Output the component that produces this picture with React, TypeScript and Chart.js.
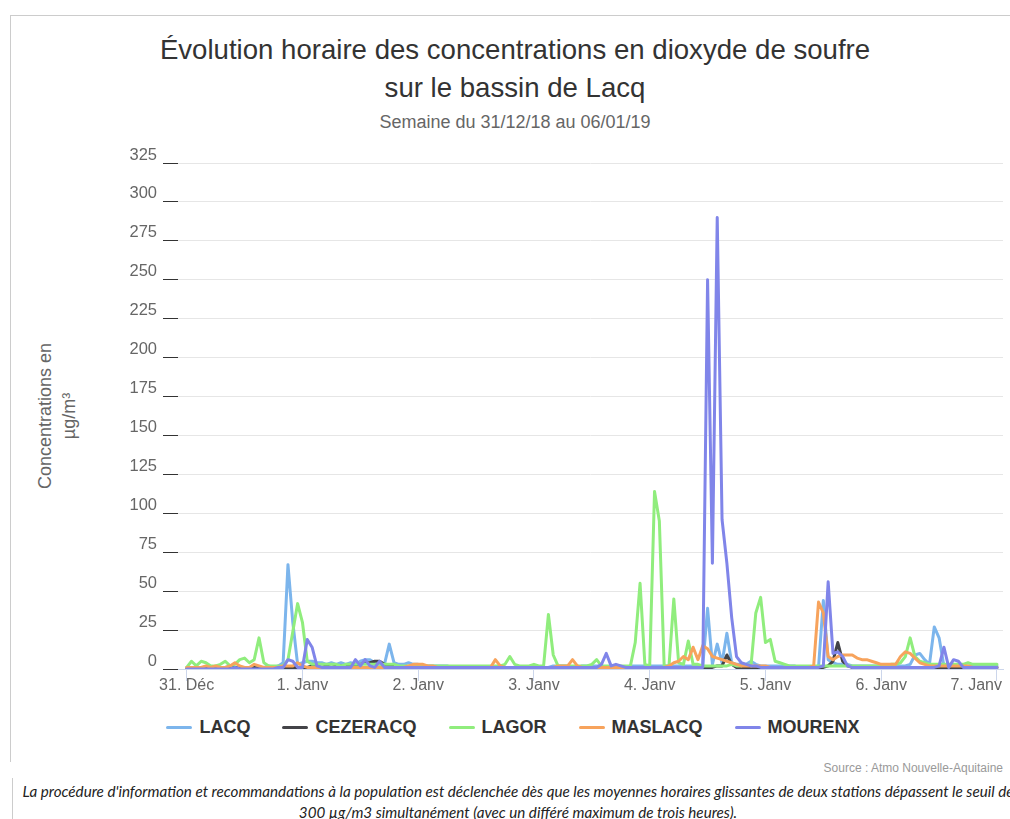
import React, { useEffect, useRef } from "react";
import { Chart, registerables } from "chart.js";

Chart.register(...registerables);

// ---- Data (hourly values, 31/12/2018 00h -> 07/01/2019 00h) ----
const DAY_TICKS = [0, 24, 48, 72, 96, 120, 144, 168];
const DAY_LABELS = ["31. Déc", "1. Janv", "2. Janv", "3. Janv", "4. Janv", "5. Janv", "6. Janv", "7. Janv"];

const SERIES_NAMES = ["LACQ", "CEZERACQ", "LAGOR", "MASLACQ", "MOURENX"];
const SERIES_COLORS = ["#7cb5ec", "#434348", "#90ed7d", "#f7a35c", "#8085e9"];

const LACQ = [
  1, 1, 1, 1, 1, 1, 1, 1, 1, 2, 1, 1, 1, 1, 1, 1, 1, 2, 1, 2, 4, 67, 30, 3,
  4, 5, 5, 4, 4, 3, 4, 3, 4, 3, 4, 3, 5, 6, 6, 4, 3, 3, 16, 4, 3, 3, 4, 3,
  3, 2, 2, 2, 2, 2, 2, 1, 1, 1, 1, 1, 1, 1, 1, 1, 1, 1, 1, 1, 1, 1, 1, 1,
  1, 1, 1, 1, 2, 2, 2, 2, 1, 1, 2, 2, 2, 2, 2, 1, 1, 1, 1, 1, 2, 2, 2, 2,
  2, 2, 2, 2, 2, 2, 2, 2, 2, 2, 2, 2, 39, 3, 16, 4, 23, 4, 3, 3, 3, 5, 3, 2,
  2, 2, 2, 2, 2, 2, 2, 1, 1, 1, 1, 1, 44, 6, 4, 3, 3, 3, 2, 2, 2, 2, 2, 2,
  2, 2, 2, 2, 2, 2, 3, 9, 10, 6, 3, 27, 20, 2, 2, 2, 2, 2, 2, 2, 2, 2, 2, 2,
  2,
];

const CEZERACQ = [
  0, 0, 1, 0, 0, 1, 0, 0, 0, 1, 1, 0, 0, 0, 1, 0, 0, 0, 1, 1, 1, 1, 1, 1,
  1, 1, 2, 2, 1, 2, 1, 2, 2, 2, 2, 2, 3, 4, 4, 5, 5, 3, 2, 2, 1, 1, 1, 1,
  1, 1, 1, 1, 1, 1, 1, 1, 1, 1, 1, 1, 1, 1, 1, 1, 1, 1, 1, 1, 1, 1, 1, 1,
  1, 1, 1, 1, 1, 1, 1, 1, 1, 1, 1, 1, 1, 1, 1, 1, 1, 1, 1, 1, 1, 1, 1, 1,
  1, 1, 1, 1, 1, 1, 1, 1, 1, 1, 1, 1, 1, 1, 2, 2, 9, 3, 1, 1, 1, 1, 1, 1,
  1, 1, 1, 1, 1, 1, 1, 1, 1, 1, 1, 1, 1, 2, 5, 17, 5, 2, 1, 1, 1, 1, 1, 1,
  1, 1, 1, 1, 1, 1, 1, 1, 1, 1, 1, 1, 1, 1, 1, 1, 1, 1, 1, 1, 1, 1, 1, 1,
  1,
];

const LAGOR = [
  1, 5, 2, 5, 4, 2, 2, 3, 5, 2, 3, 6, 7, 4, 6, 20, 4, 2, 2, 2, 2, 6, 24, 42,
  30, 5, 3, 3, 3, 3, 3, 3, 2, 3, 3, 3, 3, 3, 3, 3, 3, 3, 3, 3, 2, 2, 2, 2,
  2, 2, 2, 2, 2, 2, 2, 2, 2, 2, 2, 2, 2, 2, 2, 2, 2, 2, 3, 8, 3, 2, 2, 2,
  3, 2, 2, 35, 9, 2, 2, 2, 2, 2, 2, 2, 3, 6, 2, 2, 2, 2, 2, 2, 2, 17, 55, 3,
  2, 114, 95, 2, 2, 45, 4, 3, 18, 3, 3, 2, 2, 2, 2, 2, 2, 3, 2, 2, 3, 2, 36, 46,
  17, 19, 5, 4, 3, 2, 2, 2, 2, 2, 2, 2, 2, 2, 2, 2, 2, 2, 2, 2, 2, 2, 2, 2,
  2, 2, 3, 3, 4, 8, 20, 8, 5, 4, 3, 3, 3, 3, 3, 3, 3, 3, 4, 3, 3, 3, 3, 3,
  3,
];

const MASLACQ = [
  1, 1, 1, 1, 2, 1, 2, 1, 1, 2, 4, 2, 1, 1, 3, 2, 1, 1, 1, 1, 2, 2, 2, 4,
  2, 1, 1, 1, 1, 1, 1, 1, 1, 1, 1, 1, 1, 1, 1, 1, 1, 1, 1, 1, 1, 1, 2, 3,
  3, 3, 2, 2, 1, 1, 1, 1, 1, 1, 1, 1, 1, 1, 1, 1, 6, 2, 1, 1, 1, 1, 1, 1,
  1, 1, 1, 1, 1, 2, 2, 2, 6, 2, 1, 1, 1, 1, 1, 1, 1, 1, 1, 1, 1, 1, 1, 1,
  1, 1, 1, 1, 2, 4, 5, 8, 6, 14, 6, 15, 13, 8, 7, 6, 5, 4, 3, 2, 2, 2, 2, 2,
  2, 1, 1, 1, 1, 1, 1, 1, 1, 1, 2, 43, 36, 8, 6, 8, 9, 9, 9, 7, 6, 6, 5, 4,
  3, 3, 3, 3, 8, 11, 10, 7, 4, 3, 2, 2, 2, 2, 2, 2, 2, 2, 2, 1, 1, 1, 1, 1,
  1,
];

const MOURENX = [
  0, 0, 0, 0, 0, 0, 0, 0, 0, 0, 1, 0, 0, 0, 0, 0, 0, 0, 0, 1, 1, 6, 5, 1,
  1, 19, 14, 2, 1, 1, 1, 1, 1, 1, 1, 6, 2, 6, 2, 1, 5, 1, 1, 1, 1, 1, 1, 1,
  1, 1, 1, 1, 1, 1, 1, 1, 1, 1, 1, 1, 1, 1, 1, 1, 1, 1, 1, 1, 1, 1, 1, 1,
  1, 1, 1, 1, 1, 1, 1, 1, 1, 1, 1, 1, 1, 1, 3, 10, 2, 3, 2, 1, 1, 1, 1, 1,
  1, 1, 1, 1, 1, 1, 1, 1, 1, 1, 1, 1, 250, 68, 290, 96, 68, 33, 8, 4, 3, 2, 2, 1,
  1, 1, 1, 1, 1, 1, 1, 1, 1, 1, 1, 1, 2, 56, 10, 11, 8, 2, 1, 1, 1, 1, 1, 1,
  1, 1, 1, 1, 1, 1, 1, 1, 1, 1, 1, 1, 2, 14, 1, 6, 5, 1, 1, 1, 1, 1, 1, 1,
  1,
];

const SERIES_VALUES = [LACQ, CEZERACQ, LAGOR, MASLACQ, MOURENX];

const Y_MIN = 0;
const Y_MAX = 325;
const Y_STEP = 25;

const FONT = '"Liberation Sans", Arial, Helvetica, sans-serif';

// canvas placement (page px)
const CV_LEFT = 100;
const CV_TOP = 130;
const CV_W = 910;
const CV_H = 570;

const xLabelPlugin = {
  id: "xDayLabels",
  afterDraw(chart: any) {
    const { ctx } = chart;
    const xs = chart.scales.x;
    ctx.save();
    ctx.font = "16px " + FONT;
    ctx.fillStyle = "#666666";
    ctx.textBaseline = "middle";
    ctx.textAlign = "left";
    const maxRight = chart.width - 8;
    DAY_TICKS.forEach((v, i) => {
      const label = DAY_LABELS[i];
      const w = ctx.measureText(label).width;
      let left = xs.getPixelForValue(v) - w / 2;
      if (left + w > maxRight) left = maxRight - w;
      ctx.fillText(label, left, chart.chartArea.bottom + 17);
    });
    ctx.restore();
  },
};

function SO2Chart() {
  const ref = useRef<HTMLCanvasElement | null>(null);
  useEffect(() => {
    if (!ref.current) return;
    const datasets = SERIES_NAMES.map((name, si) => ({
      label: name,
      data: SERIES_VALUES[si].map((v, i) => ({ x: i, y: v })),
      borderColor: SERIES_COLORS[si],
      backgroundColor: SERIES_COLORS[si],
      borderWidth: 3,
      pointRadius: 0,
      pointHoverRadius: 0,
      tension: 0,
      fill: false,
      borderJoinStyle: "round" as const,
      borderCapStyle: "round" as const,
      order: SERIES_NAMES.length - 1 - si,
    }));
    const chart = new Chart(ref.current, {
      type: "line",
      data: { datasets },
      plugins: [xLabelPlugin],
      options: {
        animation: false,
        responsive: false,
        maintainAspectRatio: false,
        devicePixelRatio: 1,
        layout: { padding: { top: 33, right: 7, bottom: 0, left: 0 } },
        plugins: {
          legend: { display: false },
          title: { display: false },
          tooltip: { enabled: false },
        },
        scales: {
          x: {
            type: "linear",
            min: -1.8,
            max: 169.25,
            afterBuildTicks: (s: any) => {
              s.ticks = DAY_TICKS.map((v) => ({ value: v }));
            },
            afterFit: (s: any) => {
              s.height = 31;
              s.paddingLeft = 0;
              s.paddingRight = 0;
            },
            ticks: { display: false },
            grid: {
              drawOnChartArea: false,
              drawTicks: true,
              tickLength: 12,
              tickColor: "#ccd6eb",
              tickWidth: 1,
            },
            border: { display: true, color: "#ccd6eb", width: 1 },
          },
          y: {
            type: "linear",
            min: Y_MIN,
            max: Y_MAX,
            afterFit: (s: any) => {
              s.width = 78;
            },
            ticks: {
              stepSize: Y_STEP,
              color: "#666666",
              font: { family: FONT, size: 16.5 },
              padding: 6,
              labelOffset: -8,
            },
            grid: {
              color: "#e6e6e6",
              lineWidth: 1,
              drawTicks: true,
              tickLength: 15,
              tickColor: "#333333",
              tickWidth: 1,
            },
            border: { display: false },
          },
        },
      },
    });
    return () => chart.destroy();
  }, []);
  return (
    <canvas
      ref={ref}
      width={CV_W}
      height={CV_H}
      style={{ position: "absolute", left: CV_LEFT, top: CV_TOP, width: CV_W, height: CV_H }}
    />
  );
}

export default function App() {
  return (
    <div
      style={{
        position: "absolute",
        left: 0,
        top: 0,
        width: 1010,
        height: 819,
        overflow: "hidden",
        background: "#ffffff",
        fontFamily: FONT,
      }}
    >
      {/* frame lines */}
      <div style={{ position: "absolute", left: 10, top: 15, width: 1000, height: 1, background: "#cccccc" }} />
      <div style={{ position: "absolute", left: 10, top: 15, width: 1, height: 747, background: "#cccccc" }} />
      <div style={{ position: "absolute", left: 12, top: 778, width: 1, height: 41, background: "#cccccc" }} />

      {/* title */}
      <div
        style={{
          position: "absolute",
          left: 10,
          top: 31,
          width: 1010,
          textAlign: "center",
          fontSize: 27.6,
          lineHeight: "38px",
          color: "#333333",
        }}
      >
        <div>Évolution horaire des concentrations en dioxyde de soufre</div>
        <div>sur le bassin de Lacq</div>
      </div>
      <div
        style={{
          position: "absolute",
          left: 10,
          top: 111,
          width: 1010,
          textAlign: "center",
          fontSize: 18,
          lineHeight: "22px",
          color: "#666666",
        }}
      >
        Semaine du 31/12/18 au 06/01/19
      </div>

      {/* y axis title */}
      <div
        style={{
          position: "absolute",
          left: 57 - 110,
          top: 416 - 24,
          width: 220,
          height: 48,
          lineHeight: "24px",
          textAlign: "center",
          fontSize: 18,
          color: "#666666",
          transform: "rotate(-90deg)",
          transformOrigin: "50% 50%",
          whiteSpace: "nowrap",
        }}
      >
        <div>Concentrations en</div>
        <div>µg/m³</div>
      </div>

      <SO2Chart />

      {/* legend */}
      <div
        style={{
          position: "absolute",
          left: 10,
          top: 715,
          width: 1006,
          display: "flex",
          justifyContent: "center",
          gap: 32,
          fontSize: 18,
          fontWeight: "bold",
          color: "#333333",
          lineHeight: "24px",
        }}
      >
        {SERIES_NAMES.map((n, i) => (
          <div key={n} style={{ display: "flex", alignItems: "center" }}>
            <span
              style={{
                display: "inline-block",
                width: 26,
                height: 3,
                borderRadius: 1.5,
                background: SERIES_COLORS[i],
                marginRight: 7,
              }}
            />
            <span>{n}</span>
          </div>
        ))}
      </div>

      {/* source */}
      <div
        style={{
          position: "absolute",
          right: 7,
          top: 760,
          fontSize: 12,
          lineHeight: "16px",
          color: "#999999",
          whiteSpace: "nowrap",
        }}
      >
        Source : Atmo Nouvelle-Aquitaine
      </div>

      {/* footer note */}
      <div
        style={{
          position: "absolute",
          left: 13,
          top: 781,
          width: 1010,
          textAlign: "center",
          fontFamily: "Lato, 'Open Sans', sans-serif",
          fontStyle: "italic",
          fontSize: 15.2,
          lineHeight: "21px",
          color: "#222222",
          whiteSpace: "nowrap",
        }}
      >
        <div>
          La procédure d'information et recommandations à la population est déclenchée dès que les moyennes horaires
          glissantes de deux stations dépassent le seuil de
        </div>
        <div>300 µg/m3 simultanément (avec un différé maximum de trois heures).</div>
      </div>
    </div>
  );
}
